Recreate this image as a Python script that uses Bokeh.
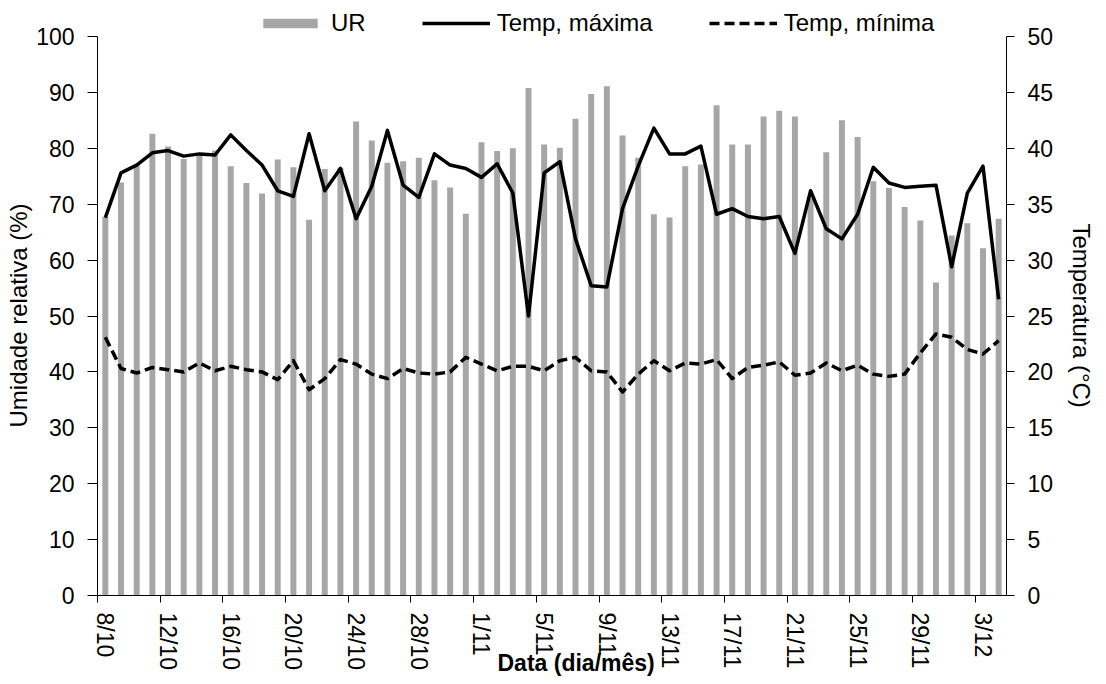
import numpy as np
from bokeh.plotting import figure
from bokeh.models import (Range1d, LinearAxis, FixedTicker, Legend, LegendItem, Title)
from bokeh.embed import file_html
from bokeh.resources import INLINE

# ---- data ----
tick_labels = ["8/10", "12/10", "16/10", "20/10", "24/10", "28/10", "1/11", "5/11",
               "9/11", "13/11", "17/11", "21/11", "25/11", "29/11", "3/12"]

ur = [67.7, 73.9, 77.2, 82.6, 80.3, 78.1, 78.9, 79.6, 76.8, 73.8,
      71.9, 78.0, 76.6, 67.2, 76.3, 76.5, 84.8, 81.4, 77.4, 77.7,
      78.3, 74.3, 73.0, 68.3, 81.1, 79.5, 80.0, 90.8, 80.7, 80.1,
      85.3, 89.7, 91.1, 82.3, 78.3, 68.2, 67.6, 76.8, 77.1, 87.7,
      80.7, 80.7, 85.7, 86.7, 85.7, 71.0, 79.3, 85.0, 82.0, 74.1,
      72.9, 69.5, 67.1, 56.0, 64.4, 66.6, 62.1, 67.4]

tmax = [33.8, 37.8, 38.5, 39.6, 39.8, 39.3, 39.5, 39.4, 41.2, 39.8,
        38.5, 36.2, 35.7, 41.3, 36.2, 38.2, 33.7, 36.6, 41.6, 36.7,
        35.6, 39.5, 38.5, 38.2, 37.4, 38.6, 36.0, 25.0, 37.8, 38.8,
        31.9, 27.7, 27.6, 34.6, 38.4, 41.8, 39.5, 39.5, 40.2, 34.1,
        34.6, 33.9, 33.7, 33.9, 30.6, 36.2, 32.8, 31.9, 34.1, 38.3,
        36.9, 36.5, 36.6, 36.7, 29.4, 36.0, 38.4, 26.5]

tmin = [23.1, 20.3, 19.9, 20.4, 20.2, 20.0, 20.8, 20.1, 20.5, 20.2,
        20.0, 19.3, 21.0, 18.4, 19.4, 21.1, 20.7, 19.8, 19.4, 20.3,
        19.9, 19.8, 20.0, 21.3, 20.7, 20.1, 20.5, 20.5, 20.1, 21.0,
        21.3, 20.1, 20.0, 18.2, 19.8, 21.0, 20.1, 20.8, 20.7, 21.1,
        19.4, 20.4, 20.6, 20.9, 19.7, 19.9, 20.8, 20.1, 20.6, 19.8,
        19.6, 19.8, 21.7, 23.4, 23.1, 22.0, 21.6, 22.8]

n = len(ur)
idx = np.arange(n)
FONT = "Liberation Sans"

FRAME_H = 595          # frame spans from the top of the page to the x axis
TOP_PAD = 36           # pixels above the value 100 (room for the legend)
ur_top = 100 * (1 + TOP_PAD / (FRAME_H - TOP_PAD))

p = figure(frame_width=909, frame_height=FRAME_H,
           x_range=Range1d(-0.5, n - 0.5), y_range=Range1d(0, ur_top),
           output_backend="svg", toolbar_location=None,
           min_border_left=97, min_border_right=100, min_border_top=0, min_border_bottom=89)
p.extra_y_ranges = {"temp": Range1d(0, ur_top / 2)}
p.xgrid.visible = False
p.ygrid.visible = False
p.outline_line_color = None
p.background_fill_color = "white"
p.border_fill_color = "white"

bars = p.vbar(x=idx, top=ur, width=0.38, fill_color="#A6A6A6", line_color=None)
lmax = p.line(idx, tmax, y_range_name="temp", line_color="black", line_width=3.5, line_join="round")
lmin = p.line(idx, tmin, y_range_name="temp", line_color="black", line_width=3.5,
              line_dash="10 5", line_join="round")

# x axis: labels at category centres, tick marks between categories (minor ticks)
xa = p.xaxis[0]
xa.ticker = FixedTicker(ticks=[4 * k for k in range(len(tick_labels))],
                        minor_ticks=[4 * k - 0.5 for k in range(len(tick_labels))])
xa.major_label_overrides = {4 * k: lab for k, lab in enumerate(tick_labels)}
xa.major_tick_out = 0
xa.major_tick_in = 0
xa.minor_tick_out = 7
xa.minor_tick_in = 0
xa.minor_tick_line_color = "black"
xa.axis_line_color = "black"
xa.major_label_orientation = "vertical"
xa.major_label_standoff = 10
xa.major_label_text_font = FONT
xa.major_label_text_font_size = "23px"
xa.major_label_text_color = "black"

# left axis
ya = p.yaxis[0]
ya.ticker = FixedTicker(ticks=list(range(0, 101, 10)))
ya.bounds = (0, 100)
ya.major_tick_out = 10
ya.major_tick_in = 0
ya.minor_tick_out = 0
ya.minor_tick_in = 0
ya.major_label_standoff = 13
ya.major_label_text_font = FONT
ya.major_label_text_font_size = "23px"
ya.major_label_text_color = "black"
ya.axis_line_color = "black"

# right axis
yr = LinearAxis(y_range_name="temp", ticker=FixedTicker(ticks=list(range(0, 51, 5))), bounds=(0, 50))
yr.major_tick_out = 8
yr.major_tick_in = 0
yr.minor_tick_out = 0
yr.minor_tick_in = 0
yr.major_label_standoff = 13
yr.major_label_text_font = FONT
yr.major_label_text_font_size = "23px"
yr.major_label_text_color = "black"
yr.axis_line_color = "black"
p.add_layout(yr, "right")

# axis titles (as side-panel titles so they can be placed like the original)
p.add_layout(Title(text="Data (dia/mês)", align="left", offset=400, vertical_align="top",
                   standoff=-47, text_font=FONT, text_font_size="23px",
                   text_font_style="bold", text_color="black"), "below")
p.add_layout(Title(text="Umidade relativa (%)", align="left", offset=168, vertical_align="bottom",
                   standoff=3, text_font=FONT, text_font_size="24px",
                   text_font_style="normal", text_color="black"), "left")
p.add_layout(Title(text="Temperatura (°C)", align="left", offset=223, vertical_align="bottom",
                   standoff=22, text_font=FONT, text_font_size="24px",
                   text_font_style="normal", text_color="black"), "right")

legend = Legend(items=[LegendItem(label="UR", renderers=[bars]),
                       LegendItem(label="Temp, máxima", renderers=[lmax]),
                       LegendItem(label="Temp, mínima", renderers=[lmin])],
                orientation="horizontal", location=(159, FRAME_H - 37),
                glyph_width=68, glyph_height=12, label_standoff=7, spacing=56,
                padding=0, margin=0, border_line_color=None, background_fill_alpha=0,
                label_text_font=FONT, label_text_font_size="24px", label_height=26,
                label_text_color="black")
p.add_layout(legend)

open("out.html", "w").write(file_html(p, INLINE))
